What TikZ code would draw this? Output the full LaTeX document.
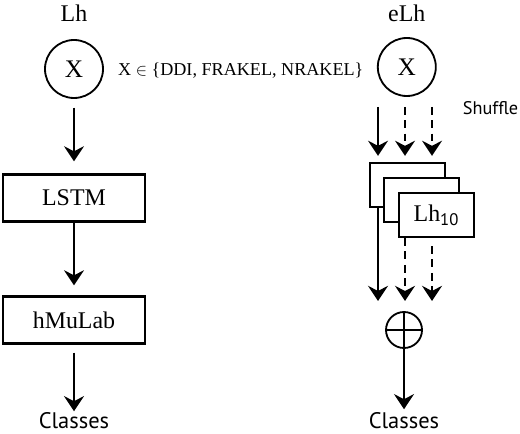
\documentclass[tikz,border=0pt]{standalone}
\usepackage{fontspec}
\setmainfont{Liberation Serif}
\setsansfont{PT Sans}
\usetikzlibrary{arrows.meta}
\begin{document}
\begin{tikzpicture}[line width=1.3pt,
  arr/.style={-{Stealth[length=3.8mm,width=5mm,inset=1.3mm]}},
  dsh/.style={dash pattern=on 5.5pt off 4pt},
  big/.style={font=\fontsize{17}{20}\selectfont},
  lbl/.style={font=\sffamily\fontsize{16}{19}\selectfont},
  blk/.style={draw,line width=1.6pt,fill=white,minimum width=3.55cm,minimum height=1.175cm,big},
  sblk/.style={draw,line width=1.6pt,fill=white,minimum width=1.875cm,minimum height=1.1cm,big},
  inp/.style={draw,circle,line width=1.3pt,minimum size=1.45cm,inner sep=0pt,font=\fontsize{18}{21}\selectfont}]
\useasboundingbox (0,0) rectangle (13,10.825);
\node[big] (lh) at (1.85,10.5) {Lh};
\node[inp] (xl) at (1.85,9.1) {X};
\node[font=\fontsize{12.9}{15}\selectfont] (set) at (6.02,9.07) {X $\in$ \{DDI, FRAKEL, NRAKEL\}};
\node[blk] (lstm) at (1.85,5.875) {LSTM};
\node[blk] (hmu) at (1.85,2.825) {hMuLab};
\node[lbl] (cl) at (1.85,0.3) {Classes};
\draw[arr] ([yshift=-.22cm]xl.south) -- ([yshift=.3cm]lstm.north);
\draw[arr] (lstm.south) -- ([yshift=.25cm]hmu.north);
\draw[arr] ([yshift=-.2cm]hmu.south) -- ([yshift=-.1cm]cl.north);

\node[big] (elh) at (10.17,10.5) {eLh};
\node[inp] (xr) at (10.17,9.15) {X};
\node[font=\sffamily\fontsize{13}{15}\selectfont,anchor=west,inner sep=0pt] (shuf) at (11.55,8.12) {Shuffle};
\node[sblk] (m1) at (10.19,6.2) {};
\node[sblk] (m2) at (10.54,5.825) {};
\node[sblk] (m3) at (10.91,5.45) {Lh\textsubscript{\sffamily 10}};
\node[draw,circle,line width=1.3pt,minimum size=.9cm,inner sep=0pt] (sum) at (10.1,2.575) {};
\draw (sum.north) -- (sum.south) (sum.west) -- (sum.east);
\node[lbl] (cr) at (10.1,0.3) {Classes};
\coordinate (t1) at (9.45,8.15);
\coordinate (t2) at (10.125,8.15);
\coordinate (t3) at (10.8,8.15);
\coordinate (b1) at (9.45,3.3);
\coordinate (b2) at (10.125,3.3);
\coordinate (b3) at (10.8,3.3);
\draw[arr] (t1) -- ([yshift=.15cm]t1 |- m1.north);
\draw[arr,dsh] (t2) -- ([yshift=.15cm]t2 |- m1.north);
\draw[arr,dsh] (t3) -- ([yshift=.15cm]t3 |- m1.north);
\draw[arr] (t1 |- m1.south) -- (b1);
\draw[arr,dsh] (t2 |- m3.south) -- (b2);
\draw[arr,dsh] ([yshift=-.2cm]t3 |- m3.south) -- (b3);
\draw[arr] (sum.south) -- ([yshift=-.05cm]cr.north);
\end{tikzpicture}
\end{document}
